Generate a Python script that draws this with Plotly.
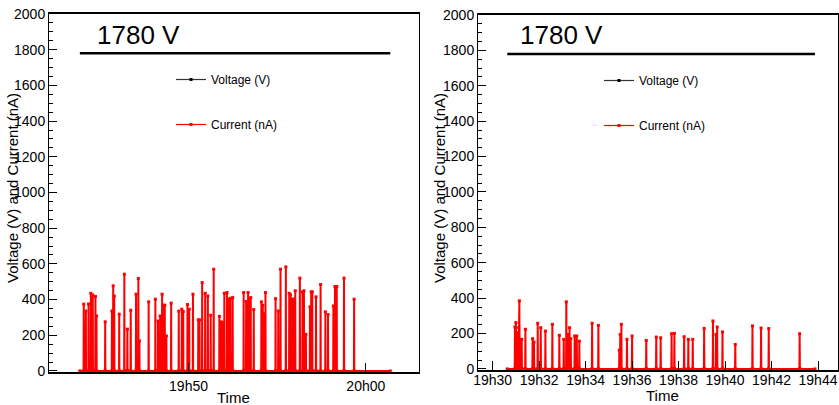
import pandas as pd
import plotly.graph_objects as go

# ---------------- data (times in minutes after 19:00) ----------------
BASE = "2024-01-01 19:00:00"

# Left run (19h44 - 20h01)
left_start, left_end = 43.87, 61.38
left_spike_t = [44.09, 44.21, 44.36, 44.49, 44.60, 44.75, 44.81, 45.30, 45.68, 45.75,
                45.81, 46.09, 46.38, 46.55, 46.74, 47.04, 47.17, 47.23, 47.75, 48.13,
                48.28, 48.40, 48.51, 48.58, 48.66, 48.75, 49.02, 49.45, 49.62, 49.70,
                49.94, 50.04, 50.25, 50.55, 50.62, 50.77, 50.94, 51.09, 51.25, 51.42,
                51.74, 51.85, 51.94, 52.02, 52.17, 52.25, 52.36, 52.49, 53.11, 53.25,
                53.36, 53.43, 53.51, 53.68, 54.11, 54.19, 54.26, 54.34, 54.91, 55.06,
                55.19, 55.49, 55.68, 55.75, 55.85, 55.94, 56.02, 56.28, 56.43, 56.51,
                56.62, 56.85, 56.92, 56.98, 57.19, 57.45, 57.72, 57.87, 58.17, 58.26,
                58.36, 58.77, 59.34]
left_spike_v = [374, 336, 375, 435, 426, 417, 308, 275, 336, 477,
                420, 318, 542, 234, 340, 430, 518, 168, 387, 402,
                280, 308, 430, 368, 368, 196, 380, 335, 346, 333,
                372, 346, 430, 286, 286, 495, 435, 420, 312, 570,
                306, 275, 270, 435, 439, 402, 407, 411, 439, 389,
                439, 405, 411, 344, 387, 368, 320, 439, 405, 336,
                570, 583, 435, 426, 402, 402, 449, 520, 443, 449,
                205, 359, 443, 443, 415, 484, 331, 316, 364, 473,
                473, 520, 402]
left_volt_t = [43.87, 61.38]
left_volt_v = [1780, 1780]

# Right run (19h30 - 19h44)
right_start, right_end = 30.63, 43.87
right_spike_t = [30.96, 31.00, 31.06, 31.12, 31.15, 31.21, 31.25, 31.41, 31.72, 31.78,
                 31.94, 32.07, 32.27, 32.57, 32.87, 33.06, 33.17, 33.24, 33.31, 33.36,
                 33.53, 33.62, 33.73, 34.28, 34.55, 35.45, 35.49, 35.54, 35.78, 36.00,
                 36.61, 37.04, 37.23, 37.70, 37.82, 38.24, 38.42, 38.61, 39.10, 39.48,
                 39.61, 39.66, 39.89, 40.44, 41.18, 41.55, 41.88, 43.21]
right_spike_v = [237, 262, 205, 233, 385, 167, 167, 224, 171, 152,
                 258, 233, 214, 252, 190, 167, 379, 195, 233, 171,
                 186, 186, 157, 258, 246, 106, 195, 252, 167, 186,
                 161, 180, 176, 199, 201, 182, 167, 167, 229, 271,
                 195, 237, 209, 138, 243, 231, 228, 199]
right_volt_t = [30.63, 43.87]
right_volt_v = [1780, 1780]

y_ticks = [0, 200, 400, 600, 800, 1000, 1200, 1400, 1600, 1800, 2000]
label_v = "1780 V"


def to_time(minutes):
    return pd.Timestamp(BASE) + pd.to_timedelta(pd.Series(minutes, dtype=float), unit="min")


def current_series(start, end, ts, vs, d=0.01):
    xs, ys = [start], [0]
    for t, v in zip(ts, vs):
        xs += [t - d, t, t + d]
        ys += [0, v, 0]
    xs.append(end)
    ys.append(0)
    return to_time(xs), ys


FONT = "Liberation Sans, Arial, Helvetica, sans-serif"
W, H = 839, 405

fig = go.Figure()

panels = [
    dict(xa="x", ya="y", leg="legend", vt=left_volt_t, vv=left_volt_v,
         cs=(left_start, left_end, left_spike_t, left_spike_v)),
    dict(xa="x2", ya="y2", leg="legend2", vt=right_volt_t, vv=right_volt_v,
         cs=(right_start, right_end, right_spike_t, right_spike_v)),
]

for p in panels:
    fig.add_trace(go.Scatter(
        x=to_time(p["vt"]), y=p["vv"], name="Voltage (V)", mode="lines",
        line=dict(color="black", width=2.5), showlegend=False,
        xaxis=p["xa"], yaxis=p["ya"]))
    cx, cy = current_series(*p["cs"])
    fig.add_trace(go.Scatter(
        x=cx, y=cy, name="Current (nA)", mode="lines+markers",
        line=dict(color="#ff0000", width=2), marker=dict(color="#ff0000", size=3, symbol="square"),
        showlegend=False, xaxis=p["xa"], yaxis=p["ya"]))
    # legend entries (thin line + small marker, as in the reference key)
    fig.add_trace(go.Scatter(
        x=[None], y=[None], name="Voltage (V)", mode="lines+markers",
        line=dict(color="#333333", width=1.2), marker=dict(color="black", size=3, symbol="square"),
        xaxis=p["xa"], yaxis=p["ya"], legend=p["leg"], legendgroup="v" + p["leg"]))
    fig.add_trace(go.Scatter(
        x=[None], y=[None], name="Current (nA)", mode="lines+markers",
        line=dict(color="#ff0000", width=1.2), marker=dict(color="#ff0000", size=3, symbol="square"),
        xaxis=p["xa"], yaxis=p["ya"], legend=p["leg"], legendgroup="c" + p["leg"]))


def px_x(px):
    return px / W


def px_y(py):
    return (H - py) / H


yaxis_common = dict(
    range=[-6, 2000], tickvals=y_ticks, ticks="inside", ticklen=8, tickwidth=1,
    tickcolor="black", showline=True, linecolor="black", linewidth=1, mirror=True,
    showgrid=False, zeroline=False,
    minor=dict(dtick=50, ticks="inside", ticklen=4, tickcolor="black", showgrid=False),
    tickfont=dict(family=FONT, size=14, color="black"), fixedrange=True, automargin=False,
)
xaxis_common = dict(
    type="date", ticks="inside", ticklen=9, tickwidth=1, tickcolor="black",
    showline=True, linecolor="black", linewidth=1.5, mirror=True, showgrid=False,
    tickformat="%Hh%M", tickfont=dict(family=FONT, size=14, color="black"), automargin=False,
)

fig.update_layout(
    width=W, height=H, margin=dict(l=0, r=0, t=0, b=0, autoexpand=False),
    paper_bgcolor="white", plot_bgcolor="white",
    font=dict(family=FONT, color="black"),
    xaxis=dict(xaxis_common, domain=[px_x(49), px_x(419)], anchor="y",
               range=[to_time([42.13])[0], to_time([63.0])[0]], dtick=10 * 60 * 1000),
    yaxis=dict(yaxis_common, domain=[px_y(372), px_y(14)], anchor="x"),
    xaxis2=dict(xaxis_common, domain=[px_x(478), px_x(838)], anchor="y2",
                range=[to_time([29.37])[0], to_time([44.86])[0]], dtick=2 * 60 * 1000,
                ticklabelstandoff=-4),
    yaxis2=dict(yaxis_common, domain=[px_y(370), px_y(15)], anchor="x2"),
    legend=dict(x=px_x(171), y=px_y(65), xanchor="left", yanchor="top",
                traceorder="grouped", tracegroupgap=26, bgcolor="rgba(0,0,0,0)",
                font=dict(family=FONT, size=12, color="black")),
    legend2=dict(x=px_x(599), y=px_y(66), xanchor="left", yanchor="top",
                 traceorder="grouped", tracegroupgap=26, bgcolor="rgba(0,0,0,0)",
                 font=dict(family=FONT, size=12, color="black")),
    annotations=[
        dict(text=label_v, x=px_x(95), y=px_y(35), xref="paper", yref="paper",
             xanchor="left", yanchor="middle", showarrow=False,
             font=dict(family=FONT, size=26, color="black")),
        dict(text=label_v, x=px_x(518), y=px_y(35), xref="paper", yref="paper",
             xanchor="left", yanchor="middle", showarrow=False,
             font=dict(family=FONT, size=26, color="black")),
        dict(text="Voltage (V) and Current (nA)", x=px_x(12), y=px_y(188), xref="paper", yref="paper",
             xanchor="center", yanchor="middle", textangle=-90, showarrow=False,
             font=dict(family=FONT, size=15, color="black")),
        dict(text="Voltage (V) and Current (nA)", x=px_x(439), y=px_y(188), xref="paper", yref="paper",
             xanchor="center", yanchor="middle", textangle=-90, showarrow=False,
             font=dict(family=FONT, size=15, color="black")),
        dict(text="Time", x=px_x(233), y=px_y(397), xref="paper", yref="paper",
             xanchor="center", yanchor="middle", showarrow=False,
             font=dict(family=FONT, size=15, color="black")),
        dict(text="Time", x=px_x(662), y=px_y(395), xref="paper", yref="paper",
             xanchor="center", yanchor="middle", showarrow=False,
             font=dict(family=FONT, size=15, color="black")),
    ],
)

fig.write_html("out.html")
